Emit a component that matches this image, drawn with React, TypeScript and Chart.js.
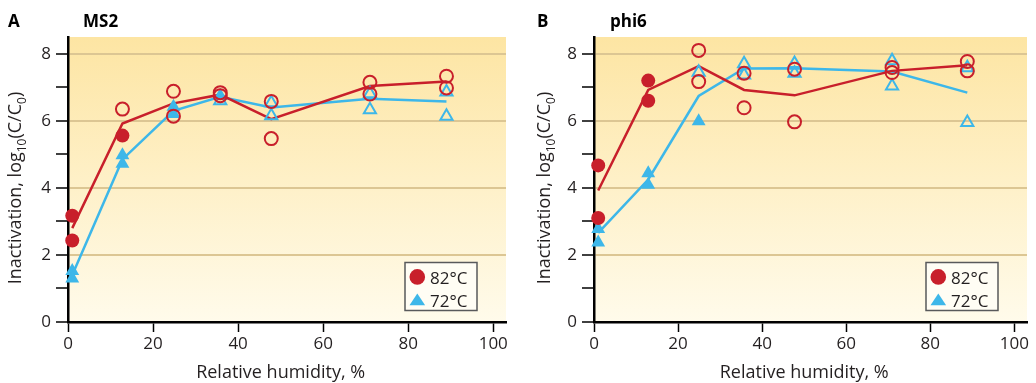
import React, { useEffect, useRef } from "react";
import { Chart, registerables } from "chart.js";

Chart.register(...registerables);

// ---------------- DATA ----------------
// Panel A: MS2
const msRh = [1, 12.8, 24.8, 35.8, 47.8, 71, 89];
const msRedMean = [2.8, 5.92, 6.52, 6.78, 6.05, 7.04, 7.17];
const msBlueMean = [1.4, 4.85, 6.3, 6.72, 6.4, 6.66, 6.58];
const msRedFilledX = [1, 1, 12.8];
const msRedFilledY = [3.17, 2.43, 5.56];
const msRedOpenX = [12.8, 24.8, 24.8, 35.8, 35.8, 47.8, 47.8, 71, 71, 89, 89];
const msRedOpenY = [6.35, 6.88, 6.14, 6.84, 6.75, 6.58, 5.47, 7.15, 6.8, 7.33, 6.98];
const msBlueFilledX = [1, 1, 12.8, 12.8, 24.8, 24.8, 35.8];
const msBlueFilledY = [1.52, 1.3, 4.97, 4.72, 6.42, 6.2, 6.75];
const msBlueOpenX = [35.8, 47.8, 47.8, 71, 71, 89, 89];
const msBlueOpenY = [6.6, 6.54, 6.15, 6.81, 6.33, 6.86, 6.14];

// Panel B: phi6
const phRh = [1, 12.9, 24.9, 35.7, 47.7, 70.9, 88.8];
const phRedMean = [3.92, 6.92, 7.63, 6.92, 6.76, 7.49, 7.66];
const phBlueMean = [2.66, 4.25, 6.74, 7.56, 7.57, 7.47, 6.84];
const phRedFilledX = [1, 1, 12.9, 12.9];
const phRedFilledY = [4.67, 3.1, 7.2, 6.6];
const phRedOpenX = [24.9, 24.9, 35.7, 35.7, 47.7, 47.7, 70.9, 70.9, 88.8, 88.8];
const phRedOpenY = [8.1, 7.17, 7.42, 6.39, 7.54, 5.97, 7.59, 7.44, 7.77, 7.49];
const phBlueFilledX = [1, 1, 12.9, 12.9, 24.9];
const phBlueFilledY = [2.77, 2.37, 4.44, 4.09, 5.99];
const phBlueOpenX = [24.9, 35.7, 35.7, 47.7, 47.7, 70.9, 70.9, 88.8, 88.8];
const phBlueOpenY = [7.45, 7.7, 7.37, 7.71, 7.42, 7.79, 7.04, 7.58, 5.95];

const legendLabels = ["82°C", "72°C"];
const xTitle = "Relative humidity, %";
const yTitleParts = [
  { t: "Inactivation, log", sub: false },
  { t: "10", sub: true },
  { t: "(C/C", sub: false },
  { t: "0", sub: true },
  { t: ")", sub: false },
];

// ---------------- STYLE ----------------
const RED = "#c81f2b";
const BLUE = "#3db7e9";
const INK = "#231f20";
const FONT = "'Open Sans', 'Noto Sans', sans-serif";

const zip = (xs: number[], ys: number[]) => xs.map((x, i) => ({ x, y: ys[i] }));

type PanelDef = {
  letter: string;
  name: string;
  left: number;
  width: number;
  rightPad: number;
  letterX: number;
  nameX: number;
  labelX: number;
  rh: number[];
  redMean: number[];
  blueMean: number[];
  redFilled: [number[], number[]];
  redOpen: [number[], number[]];
  blueFilled: [number[], number[]];
  blueOpen: [number[], number[]];
};

const panels: PanelDef[] = [
  {
    letter: "A",
    name: "MS2",
    left: 0,
    width: 518,
    rightPad: 12,
    letterX: 8,
    nameX: 83,
    labelX: 21,
    rh: msRh,
    redMean: msRedMean,
    blueMean: msBlueMean,
    redFilled: [msRedFilledX, msRedFilledY],
    redOpen: [msRedOpenX, msRedOpenY],
    blueFilled: [msBlueFilledX, msBlueFilledY],
    blueOpen: [msBlueOpenX, msBlueOpenY],
  },
  {
    letter: "B",
    name: "phi6",
    left: 526,
    width: 510,
    rightPad: 4,
    letterX: 11,
    nameX: 84,
    labelX: 24,
    rh: phRh,
    redMean: phRedMean,
    blueMean: phBlueMean,
    redFilled: [phRedFilledX, phRedFilledY],
    redOpen: [phRedOpenX, phRedOpenY],
    blueFilled: [phBlueFilledX, phBlueFilledY],
    blueOpen: [phBlueOpenX, phBlueOpenY],
  },
];

function makePlugin(p: PanelDef) {
  return {
    id: "decor" + p.letter,
    beforeDraw(chart: any) {
      const { ctx, chartArea: a } = chart;
      const g = ctx.createLinearGradient(0, a.top, 0, a.bottom);
      g.addColorStop(0, "#fde5a3");
      g.addColorStop(1, "#fffbeb");
      ctx.save();
      ctx.fillStyle = g;
      ctx.fillRect(a.left, a.top, a.right - a.left, a.bottom - a.top);
      ctx.restore();
    },
    afterDraw(chart: any) {
      const { ctx, chartArea: a } = chart;
      const xs = chart.scales.x;
      ctx.save();
      // panel letter + name
      ctx.fillStyle = "#000";
      ctx.font = `bold 17px ${FONT}`;
      ctx.textBaseline = "alphabetic";
      ctx.textAlign = "left";
      ctx.fillText(p.letter, p.letterX, 27);
      ctx.fillText(p.name, p.nameX, 27);

      // x title
      ctx.font = `18px ${FONT}`;
      ctx.fillStyle = INK;
      ctx.textAlign = "center";
      ctx.fillText(xTitle, xs.getPixelForValue(50), 378);

      // y title with subscripts
      const mainFont = `18px ${FONT}`;
      const subFont = `12px ${FONT}`;
      let total = 0;
      for (const part of yTitleParts) {
        ctx.font = part.sub ? subFont : mainFont;
        total += ctx.measureText(part.t).width;
      }
      ctx.translate(p.labelX, 188);
      ctx.rotate(-Math.PI / 2);
      ctx.textAlign = "left";
      let cx = -total / 2;
      for (const part of yTitleParts) {
        ctx.font = part.sub ? subFont : mainFont;
        ctx.fillText(part.t, cx, part.sub ? 4.5 : 0);
        cx += ctx.measureText(part.t).width;
      }
      ctx.setTransform(1, 0, 0, 1, 0, 0);

      // legend box
      const bw = 72;
      const bh = 48;
      const bl = a.right - 29 - bw;
      const bt = 262.5;
      ctx.fillStyle = "#fffdf4";
      ctx.fillRect(bl, bt, bw, bh);
      ctx.strokeStyle = "#58595b";
      ctx.lineWidth = 1.5;
      ctx.strokeRect(bl, bt, bw, bh);
      ctx.fillStyle = RED;
      ctx.beginPath();
      ctx.arc(bl + 12.3, bt + 14.4, 7.8, 0, Math.PI * 2);
      ctx.fill();
      ctx.fillStyle = BLUE;
      ctx.beginPath();
      ctx.moveTo(bl + 12.3, bt + 31);
      ctx.lineTo(bl + 20.1, bt + 42.7);
      ctx.lineTo(bl + 4.5, bt + 42.7);
      ctx.closePath();
      ctx.fill();
      ctx.fillStyle = INK;
      ctx.font = `17px ${FONT}`;
      ctx.textAlign = "left";
      ctx.fillText(legendLabels[0], bl + 25, bt + 21.7);
      ctx.fillText(legendLabels[1], bl + 25, bt + 44.4);
      ctx.restore();
    },
  };
}

function makeConfig(p: PanelDef): any {
  const lineDs = (data: number[], color: string, order: number) => ({
    type: "scatter",
    data: zip(p.rh, data),
    showLine: true,
    borderColor: color,
    borderWidth: 2.5,
    pointRadius: 0,
    tension: 0,
    order,
  });
  const ptDs = (
    xy: [number[], number[]],
    color: string,
    style: string,
    filled: boolean,
    radius: number,
    order: number
  ) => ({
    type: "scatter",
    data: zip(xy[0], xy[1]),
    pointStyle: style,
    pointRadius: radius,
    pointBackgroundColor: filled ? color : "rgba(0,0,0,0)",
    pointBorderColor: color,
    pointBorderWidth: filled ? 0 : 2,
    showLine: false,
    clip: false,
    order,
  });
  return {
    type: "scatter",
    data: {
      datasets: [
        lineDs(p.blueMean, BLUE, 10),
        lineDs(p.redMean, RED, 9),
        ptDs(p.blueFilled, BLUE, "triangle", true, 8, 6),
        ptDs(p.blueOpen, BLUE, "triangle", false, 7, 5),
        ptDs(p.redFilled, RED, "circle", true, 7, 3),
        ptDs(p.redOpen, RED, "circle", false, 6.5, 2),
      ],
    },
    options: {
      animation: false,
      responsive: false,
      devicePixelRatio: 1,
      layout: { padding: { left: 0, right: p.rightPad, top: 37, bottom: 0 } },
      plugins: { legend: { display: false }, tooltip: { enabled: false }, title: { display: false } },
      scales: {
        x: {
          type: "linear",
          min: 0,
          max: 103,
          afterFit: (s: any) => {
            s.height = 61;
          },
          ticks: {
            stepSize: 20,
            includeBounds: false,
            padding: 2,
            color: INK,
            font: { family: FONT, size: 17 },
            maxRotation: 0,
          },
          grid: {
            drawOnChartArea: false,
            drawTicks: true,
            tickLength: 10,
            tickColor: "#000",
            tickWidth: 1.5,
          },
          border: { color: "#000", width: 2.5 },
        },
        y: {
          type: "linear",
          min: 0,
          max: 8.5,
          afterFit: (s: any) => {
            s.width = 68;
          },
          ticks: {
            stepSize: 1,
            includeBounds: false,
            padding: 5,
            color: INK,
            font: { family: FONT, size: 17 },
            callback: (v: number) => (v % 2 === 0 ? String(v) : ""),
          },
          grid: {
            color: (c: any) =>
              c.tick && c.tick.value > 0 && c.tick.value % 2 === 0 ? "#dcc693" : "rgba(0,0,0,0)",
            lineWidth: 2,
            drawTicks: true,
            tickLength: 12,
            tickColor: "#000",
            tickWidth: 1.5,
          },
          border: { color: "#000", width: 2.5 },
        },
      },
    },
    plugins: [makePlugin(p)],
  };
}

function Panel({ p }: { p: PanelDef }) {
  const ref = useRef<HTMLCanvasElement | null>(null);
  useEffect(() => {
    if (!ref.current) return;
    const chart = new Chart(ref.current, makeConfig(p));
    return () => chart.destroy();
  }, [p]);
  return (
    <div style={{ position: "absolute", left: p.left, top: 0, width: p.width, height: 383 }}>
      <canvas ref={ref} width={p.width} height={383} style={{ display: "block" }} />
    </div>
  );
}

export default function App() {
  return (
    <div style={{ position: "absolute", left: 0, top: 0, width: 1036, height: 383, background: "#fff" }}>
      {panels.map((p) => (
        <Panel key={p.letter} p={p} />
      ))}
    </div>
  );
}
